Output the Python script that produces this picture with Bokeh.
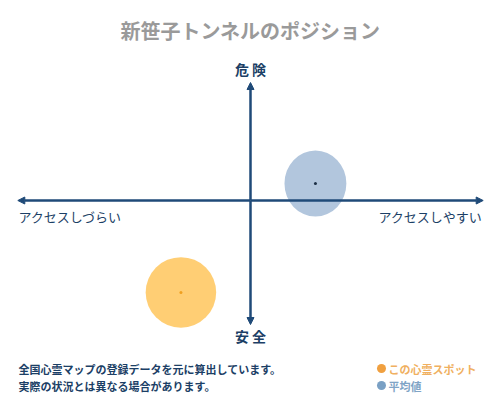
from bokeh.plotting import figure
from bokeh.models import Range1d, Label, Arrow, NormalHead, ColumnDataSource
from bokeh.embed import file_html
from bokeh.resources import INLINE

# --- data ---
title = "新笹子トンネルのポジション"
axis_top = "危 険"
axis_bottom = "安 全"
axis_left = "アクセスしづらい"
axis_right = "アクセスしやすい"
series_names = ["この心霊スポット", "平均値"]
series_x = [-29.9, 27.9]      # access (negative = hard to access)
series_y = [-39.5, 7.3]       # danger (positive = dangerous)
series_w = [30.3, 26.6]
series_h = [30.3, 28.4]
notes = ["全国心霊マップの登録データを元に算出しています。",
         "実際の状況とは異なる場合があります。"]

FONT = "Noto Sans CJK JP"
NAVY = "#1c3f66"
AXIS = "#1f4a78"

W, H = 500, 400
k = 2.327  # px per unit
p = figure(width=W, height=H, output_backend="svg", toolbar_location=None,
           x_range=Range1d(-W / 2 / k, W / 2 / k), y_range=Range1d(-H / 2 / k, H / 2 / k),
           min_border=0, outline_line_color=None)
p.axis.visible = False
p.grid.visible = False
p.background_fill_color = "white"

# axes with arrows
for (x0, y0, x1, y1) in [(0, 0, 100, 0), (0, 0, -100, 0), (0, 0, 0, 50.7), (0, 0, 0, -53.3)]:
    p.add_layout(Arrow(end=NormalHead(size=7, fill_color=AXIS, line_color=AXIS),
                       x_start=x0, y_start=y0, x_end=x1, y_end=y1,
                       line_color=AXIS, line_width=2.5))

src = ColumnDataSource(dict(x=series_x, y=series_y, w=series_w, h=series_h,
                            fill=["#ffc65c", "#9fb8d4"], alpha=[0.85, 0.8],
                            dot=["#f0a020", "#1c2f45"]))
p.ellipse(x="x", y="y", width="w", height="h", source=src,
          fill_color="fill", fill_alpha="alpha", line_color=None)
p.scatter(x="x", y="y", source=src, size=3, color="dot", line_color=None)

def lab(text, x, y, size, color, align="left", bold=True):
    p.add_layout(Label(text=text, x=x, y=H - y, x_units="screen", y_units="screen",
                       text_font=FONT, text_font_size=f"{size}px", text_color=color,
                       text_align=align, text_baseline="middle",
                       text_font_style="bold" if bold else "normal"))

lab(title, 250, 30, 20, "#9a9a9a", "center")
lab(axis_top, 250, 68, 14, NAVY, "center")
lab(axis_bottom, 250, 335, 14, NAVY, "center")
lab(axis_left, 18, 216, 13, NAVY, "left", False)
lab(axis_right, 482, 216, 13, NAVY, "right", False)
lab(notes[0], 18, 368, 11, NAVY)
lab(notes[1], 18, 385, 11, NAVY)

# legend
def px2x(px):
    return (px - W / 2) / k
def py2y(py):
    return (H / 2 - py) / k
leg = ColumnDataSource(dict(x=[px2x(381), px2x(381)], y=[py2y(368), py2y(385)],
                            c=["#f0a040", "#7aa0c4"]))
p.scatter(x="x", y="y", source=leg, size=9, color="c", line_color=None)
lab(series_names[0], 388, 368, 11, "#f0b060")
lab(series_names[1], 388, 385, 11, "#80a4c6")

open("out.html", "w").write(file_html(p, INLINE))
